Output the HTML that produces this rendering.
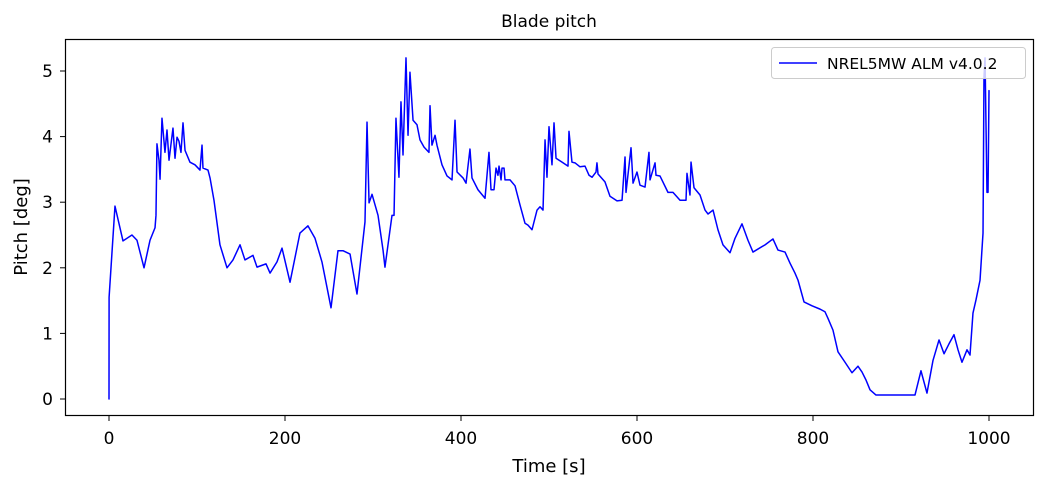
<!DOCTYPE html>
<html><head><meta charset="utf-8"><style>
body{margin:0;background:#fff;}
svg text{font-family:"DejaVu Sans","Liberation Sans",sans-serif;fill:#000;}
</style></head><body>
<svg id="chart" width="1046" height="488" viewBox="0 0 1046 488" xmlns="http://www.w3.org/2000/svg">
<rect x="0" y="0" width="1046" height="488" fill="#fff"/>
<text x="549" y="27" font-size="17" text-anchor="middle">Blade pitch</text>
<g id="plot"></g>
<rect x="65.5" y="39.5" width="968" height="376" fill="none" stroke="#000" stroke-width="1.2"/>
<g id="xticks"></g>
<g id="yticks"></g>
<text x="549" y="472" font-size="18" text-anchor="middle">Time [s]</text>
<text transform="translate(27,227) rotate(-90)" font-size="18" text-anchor="middle">Pitch [deg]</text>
<g>
<rect x="771.5" y="47.5" width="254" height="31" rx="3" fill="#fff" fill-opacity="0.8" stroke="#ccc"/>
<line x1="779" y1="63" x2="817" y2="63" stroke="#0000ff" stroke-width="1.5"/>
<text x="827" y="69" font-size="15.5">NREL5MW ALM v4.0.2</text>
</g>
</svg>
<script>
const times=[0,0.1,6.8,15.9,26.1,31.8,39.8,46.6,52.3,53.4,54.5,56.8,58.0,60.2,63.6,65.9,68.2,72.7,75.0,77.3,79.5,81.8,84.1,86.4,92.0,97.7,103.4,105.7,106.8,112.5,114.8,119.3,126.1,134.1,140.9,148.9,154.5,163.6,168.2,178.4,183.0,190.9,196.6,205.7,217.0,226.1,234.1,242.0,252.3,260.2,265.9,273.9,281.8,290.9,293.2,295.5,298.9,305.7,311.4,313.6,321.6,323.9,326.1,329.5,331.8,334.1,337.5,339.8,342.0,345.5,350.0,353.4,358.0,363.6,364.8,367.0,370.5,372.7,378.4,384.1,389.8,393.2,395.5,402.3,405.7,410.2,412.5,419.3,427.3,431.8,434.1,437.5,439.8,442.0,443.2,445.5,446.6,448.9,450.0,455.7,461.4,467.0,472.7,476.1,480.7,486.4,489.8,493.2,495.5,497.7,500.0,503.4,505.7,508.0,514.8,521.6,522.7,526.1,529.5,535.2,540.9,545.5,548.9,553.4,554.5,555.7,563.6,569.3,577.3,583.0,586.4,587.5,593.2,595.5,600.0,603.4,609.1,613.6,614.8,620.5,621.6,626.1,635.2,640.9,648.9,655.7,656.8,660.2,661.4,664.8,671.6,677.3,680.7,686.4,692.0,697.7,705.7,711.4,719.3,726.1,731.8,745.5,754.5,760.2,768.2,773.9,779.5,783.0,789.8,798.9,808.0,813.6,817.0,822.7,828.4,836.4,844.3,851.1,855.7,860.2,864.8,871.6,915.9,922.7,929.5,936.4,943.2,948.9,954.5,960.2,964.8,969.3,975.0,978.4,981.8,985.2,989.8,993.2,994.3,995.5,997.7,998.9,1000];
const pitch=[0,1.55,2.94,2.41,2.50,2.42,2.00,2.42,2.61,2.80,3.89,3.64,3.35,4.28,3.76,4.10,3.64,4.13,3.67,3.99,3.93,3.76,4.21,3.79,3.61,3.57,3.49,3.87,3.52,3.49,3.37,3.03,2.35,2.00,2.12,2.35,2.12,2.19,2.01,2.06,1.92,2.09,2.30,1.78,2.53,2.64,2.45,2.09,1.39,2.26,2.26,2.21,1.60,2.70,4.22,2.99,3.12,2.80,2.27,2.01,2.80,2.80,4.28,3.38,4.53,3.72,5.20,4.02,4.98,4.25,4.18,3.95,3.84,3.76,4.47,3.87,4.02,3.87,3.57,3.40,3.34,4.25,3.46,3.37,3.29,3.81,3.37,3.19,3.06,3.76,3.19,3.19,3.52,3.41,3.55,3.34,3.52,3.52,3.34,3.34,3.25,2.96,2.68,2.65,2.58,2.88,2.93,2.88,3.95,3.38,4.15,3.57,4.21,3.67,3.61,3.55,4.08,3.61,3.60,3.54,3.55,3.41,3.38,3.46,3.60,3.43,3.31,3.09,3.02,3.03,3.69,3.15,3.83,3.29,3.46,3.26,3.23,3.76,3.34,3.60,3.41,3.40,3.15,3.15,3.03,3.03,3.44,3.11,3.61,3.22,3.11,2.88,2.82,2.88,2.58,2.35,2.23,2.45,2.67,2.42,2.24,2.35,2.44,2.27,2.24,2.07,1.92,1.81,1.48,1.42,1.37,1.33,1.23,1.05,0.72,0.56,0.40,0.50,0.41,0.29,0.14,0.06,0.06,0.43,0.09,0.59,0.90,0.69,0.84,0.98,0.75,0.56,0.75,0.67,1.31,1.51,1.81,2.53,4.91,5.20,3.15,3.15,4.70];
const xTickVals=[0,200,400,600,800,1000];
const yTickVals=[0,1,2,3,4,5];

const NS="http://www.w3.org/2000/svg";
const xS=t=>109+t*0.88;
const yS=v=>399-v*65.6;
const plot=document.getElementById('plot');
let d='';
for(let i=0;i<times.length;i++){d+=(i?'L':'M')+xS(times[i]).toFixed(2)+','+yS(pitch[i]).toFixed(2);}
const path=document.createElementNS(NS,'path');
path.setAttribute('d',d);
path.setAttribute('fill','none');
path.setAttribute('stroke','#0000ff');
path.setAttribute('stroke-width','1.5');
path.setAttribute('stroke-linejoin','round');
path.setAttribute('stroke-linecap','round');


plot.appendChild(path);
const xg=document.getElementById('xticks');
xTickVals.forEach(v=>{
  const x=xS(v);
  const l=document.createElementNS(NS,'line');
  l.setAttribute('x1',x);l.setAttribute('x2',x);l.setAttribute('y1',415.5);l.setAttribute('y2',421);
  l.setAttribute('stroke','#000');
  
  
  xg.appendChild(l);
  const t=document.createElementNS(NS,'text');
  t.setAttribute('x',x);t.setAttribute('y',444);t.setAttribute('font-size','17');t.setAttribute('text-anchor','middle');
  t.textContent=v;
  
  
  xg.appendChild(t);
});
const yg=document.getElementById('yticks');
yTickVals.forEach(v=>{
  const y=yS(v);
  const l=document.createElementNS(NS,'line');
  l.setAttribute('x1',60);l.setAttribute('x2',65.5);l.setAttribute('y1',y);l.setAttribute('y2',y);
  l.setAttribute('stroke','#000');
  
  
  yg.appendChild(l);
  const t=document.createElementNS(NS,'text');
  t.setAttribute('x',53);t.setAttribute('y',y+6);t.setAttribute('font-size','17');t.setAttribute('text-anchor','end');
  t.textContent=v;
  
  
  yg.appendChild(t);
});
</script>
</body></html>
